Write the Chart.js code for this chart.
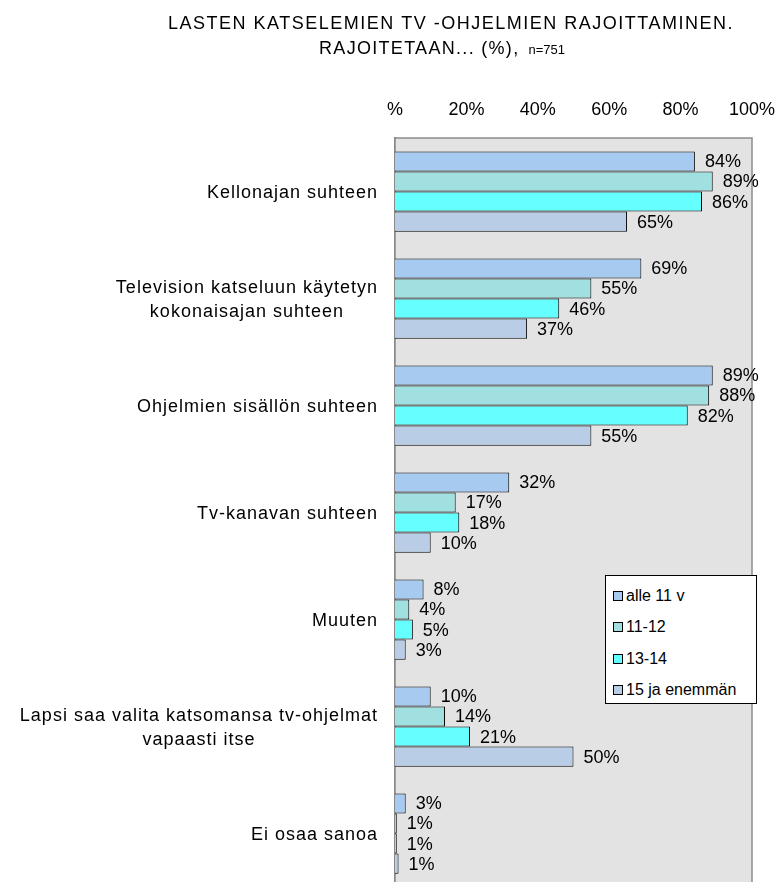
<!DOCTYPE html>
<html lang="fi">
<head>
  <meta charset="UTF-8">
  <title>Lasten katselemien tv-ohjelmien rajoittaminen</title>
  <style>
    body {
      margin: 0;
      overflow: hidden;
      background: #fff;
      font-family: 'Liberation Sans', Arial, sans-serif;
    }
    .wrap {
      position: relative;
      width: 780px;
      height: 900px;
    }
    #legend {
      position: absolute;
      left: 605px;
      top: 575px;
      width: 152px;
      height: 129px;
      background: #fff;
      border: 1px solid #000;
      box-sizing: border-box;
      padding-top: 4px;
    }
    .item {
      height: 31.5px;
      display: flex;
      align-items: center;
      font-size: 16px;
      color: #000;
      padding-left: 7px;
    }
    .box {
      width: 8px;
      height: 8px;
      border: 1px solid #000;
      margin-right: 3px;
    }
  </style>
  <script src="https://cdn.jsdelivr.net/npm/chart.js"></script>
</head>
<body>
  <div class="wrap">
    <canvas id="chart" width="780" height="900"></canvas>
    <div id="legend"></div>
  </div>

  <script>
    // data
    const categories = [
      'Kellonajan suhteen',
      ['Television katseluun käytetyn', 'kokonaisajan suhteen'],
      'Ohjelmien sisällön suhteen',
      'Tv-kanavan suhteen',
      'Muuten',
      ['Lapsi saa valita katsomansa tv-ohjelmat', 'vapaasti itse'],
      'Ei osaa sanoa'
    ];
    const seriesNames = ['alle 11 v', '11-12', '13-14', '15 ja enemmän'];
    const alle11 = [84, 69, 89, 32, 8, 10, 3];
    const age11to12 = [89, 55, 88, 17, 4, 14, 0.5];
    const age13to14 = [86, 46, 82, 18, 5, 21, 0.5];
    const age15plus = [65, 37, 55, 10, 3, 50, 1];
    const colors = ['#a6caf0', '#a0e0e0', '#66ffff', '#bacde6'];
    const titleLine1 = 'LASTEN KATSELEMIEN TV -OHJELMIEN RAJOITTAMINEN.';
    const titleLine2 = 'RAJOITETAAN... (%),';
    const titleN = 'n=751';

    const FONT = "'Liberation Sans', Arial, sans-serif";

    // grey plot background and frame
    const plotBg = {
      id: 'plotBg',
      beforeDatasetsDraw(chart) {
        const a = chart.chartArea, ctx = chart.ctx;
        ctx.save();
        ctx.fillStyle = '#e3e3e3';
        ctx.fillRect(a.left, a.top, a.right - a.left, a.bottom - a.top);
        ctx.strokeStyle = '#8c8c8c';
        ctx.lineWidth = 1.5;
        ctx.strokeRect(a.left, a.top, a.right - a.left, a.bottom - a.top);
        ctx.restore();
      }
    };

    // title with a smaller n=
    const titlePlugin = {
      id: 'titlePlugin',
      afterDraw(chart) {
        const ctx = chart.ctx;
        ctx.save();
        ctx.fillStyle = '#000';
        ctx.textBaseline = 'alphabetic';
        ctx.letterSpacing = '1.5px';
        ctx.font = '18px ' + FONT;
        ctx.textAlign = 'center';
        ctx.fillText(titleLine1, 451, 29);
        ctx.textAlign = 'left';
        ctx.letterSpacing = '1.3px';
        const w1 = ctx.measureText(titleLine2).width;
        ctx.letterSpacing = '0px';
        ctx.font = '13px ' + FONT;
        const w2 = ctx.measureText(titleN).width;
        const gap = 9;
        let x = 442 - (w1 + gap + w2) / 2;
        ctx.letterSpacing = '1.3px';
        ctx.font = '18px ' + FONT;
        ctx.fillText(titleLine2, x, 54);
        ctx.letterSpacing = '0px';
        ctx.font = '13px ' + FONT;
        ctx.fillText(titleN, x + w1 + gap, 54);
        ctx.restore();
      }
    };

    // category labels: block right aligned, lines centred
    const catLabels = {
      id: 'catLabels',
      afterDraw(chart) {
        const ctx = chart.ctx, y = chart.scales.y;
        ctx.save();
        ctx.fillStyle = '#000';
        ctx.font = '18px ' + FONT;
        ctx.letterSpacing = '1px';
        ctx.textAlign = 'center';
        ctx.textBaseline = 'middle';
        chart.data.labels.forEach((lab, i) => {
          const lines = Array.isArray(lab) ? lab : [lab];
          const w = Math.max(...lines.map(l => ctx.measureText(l).width));
          const cx = 378 - w / 2;
          const py = y.getPixelForTick(i) + 2;
          lines.forEach((l, j) => {
            ctx.fillText(l, cx, py + (j - (lines.length - 1) / 2) * 24);
          });
        });
        ctx.restore();
      }
    };

    // value labels after each bar
    const valueLabels = {
      id: 'valueLabels',
      afterDatasetsDraw(chart) {
        const ctx = chart.ctx;
        ctx.save();
        ctx.fillStyle = '#000';
        ctx.font = '18px ' + FONT;
        ctx.textAlign = 'left';
        ctx.textBaseline = 'middle';
        chart.data.datasets.forEach((ds, i) => {
          chart.getDatasetMeta(i).data.forEach((bar, j) => {
            ctx.fillText(Math.round(ds.data[j]) + '%', bar.x + 10, bar.y + 1);
          });
        });
        ctx.restore();
      }
    };

    const seriesData = [alle11, age11to12, age13to14, age15plus];

    const chart = new Chart(document.getElementById('chart'), {
      type: 'bar',
      data: {
        labels: categories,
        datasets: seriesNames.map((name, i) => ({
          label: name,
          data: seriesData[i],
          backgroundColor: colors[i],
          borderColor: '#000',
          borderWidth: 1,
          categoryPercentage: 0.75,
          barPercentage: 1
        }))
      },
      options: {
        indexAxis: 'y',
        responsive: false,
        animation: false,
        layout: { padding: { top: 90, left: 0, right: 28, bottom: 13 } },
        plugins: {
          legend: { display: false },
          tooltip: { enabled: false }
        },
        scales: {
          x: {
            position: 'top',
            min: 0,
            max: 100,
            grid: { display: false },
            border: { display: false },
            ticks: {
              stepSize: 20,
              padding: 9,
              maxRotation: 0,
              color: '#000',
              font: { family: FONT, size: 18 },
              callback: v => (v === 0 ? '%' : v + '%')
            },
            afterFit(s) {
              s.height = 48;
              s.paddingLeft = 0;
              s.paddingRight = 0;
            }
          },
          y: {
            grid: { display: true, drawOnChartArea: false, drawTicks: false },
            border: { display: true, color: '#808080', width: 2 },
            ticks: { display: false },
            afterFit(s) { s.width = 395; }
          }
        }
      },
      plugins: [plotBg, valueLabels, catLabels, titlePlugin]
    });

    // legend box
    const legend = document.getElementById('legend');
    chart.data.datasets.forEach(ds => {
      const row = document.createElement('div');
      row.className = 'item';
      const box = document.createElement('span');
      box.className = 'box';
      box.style.background = ds.backgroundColor;
      row.appendChild(box);
      row.appendChild(document.createTextNode(ds.label));
      legend.appendChild(row);
    });
  </script>
</body>
</html>
